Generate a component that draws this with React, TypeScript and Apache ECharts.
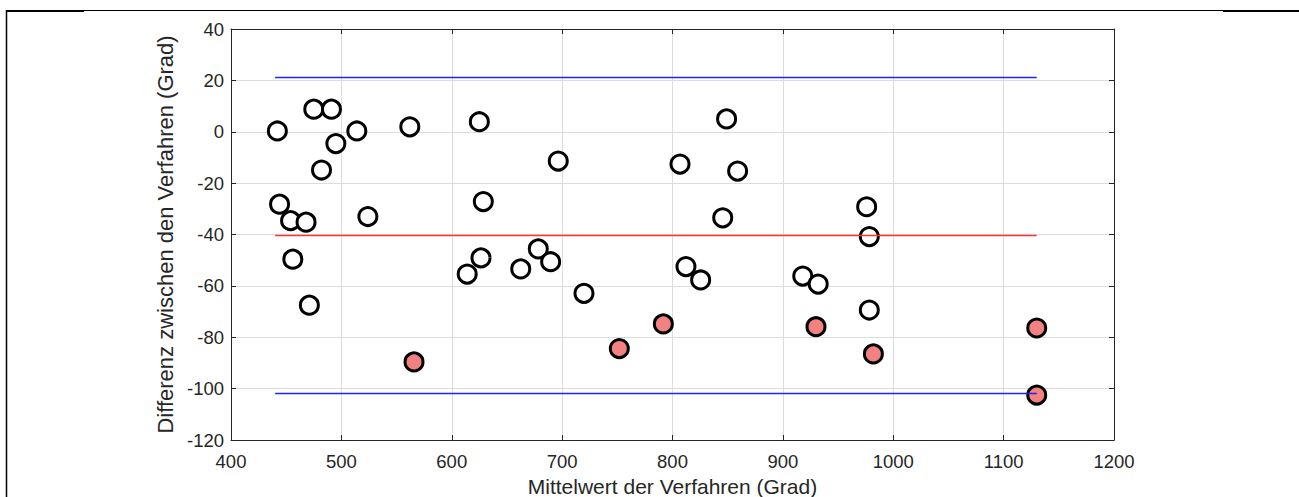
import React, { useEffect, useRef } from "react";
import * as echarts from "echarts";

const normalMean = [442, 444, 454, 468, 456, 471, 475, 491, 482, 495, 514, 524, 562, 614, 625, 626.5, 628.6, 662.5, 678.4, 689.6, 696.5, 719.8, 806.8, 812.2, 825.5, 845.5, 849, 859, 918, 932, 975.9, 978.3, 978.3];
const normalDiff = [0.3, -28.2, -34.6, -35.2, -49.6, -67.5, 8.8, 8.8, -14.9, -4.6, 0.3, -33, 1.9, -55.4, 3.9, -49.1, -27.2, -53.4, -45.6, -50.6, -11.4, -62.9, -12.6, -52.5, -57.7, -33.5, 5, -15.3, -56.2, -59.3, -29.2, -40.8, -69.4];
const outlierMean = [565.8, 751.8, 791.7, 930, 982, 1130, 1130];
const outlierDiff = [-89.6, -84.4, -74.8, -75.9, -86.5, -76.4, -102.5];
const limitStart = 440;
const limitEnd = 1130;
const upperLimit = 21.1;
const meanDiff = -40.4;
const lowerLimit = -101.9;
const xTicks = [400, 500, 600, 700, 800, 900, 1000, 1100, 1200];
const yTicks = [-120, -100, -80, -60, -40, -20, 0, 20, 40];

const axisColor = "#262626";
const font = "Liberation Sans, Arial, Helvetica, sans-serif";

export default function App() {
  const ref = useRef<HTMLDivElement>(null);
  useEffect(() => {
    if (!ref.current) return;
    const chart = echarts.init(ref.current, null, { renderer: "svg" });
    const pair = (xs: number[], ys: number[]) => xs.map((x, i) => [x, ys[i]]);
    const common = {
      axisLine: { show: true, onZero: false, lineStyle: { color: axisColor, width: 1 } },
      axisTick: { show: true, inside: true, length: 5, lineStyle: { color: axisColor } },
    };
    chart.setOption({
      animation: false,
      grid: {
        left: 231,
        right: 1299 - 1114,
        top: 29,
        bottom: 497 - 440,
        containLabel: false,
        outerBoundsMode: "none",
      },
      xAxis: [
        {
          type: "value",
          min: xTicks[0],
          max: xTicks[xTicks.length - 1],
          interval: 100,
          position: "bottom",
          ...common,
          splitLine: { show: true, lineStyle: { color: "#dcdcdc", width: 1 } },
          axisLabel: { color: axisColor, fontSize: 18.5, fontFamily: font, margin: 12, formatter: (v: number) => String(v) },
          name: "Mittelwert der Verfahren (Grad)",
          nameLocation: "middle",
          nameGap: 34,
          nameTextStyle: { color: axisColor, fontSize: 21, fontFamily: font },
        },
        {
          type: "value",
          min: xTicks[0],
          max: xTicks[xTicks.length - 1],
          interval: 100,
          position: "top",
          ...common,
          splitLine: { show: false },
          axisLabel: { show: false },
        },
      ],
      yAxis: [
        {
          type: "value",
          min: yTicks[0],
          max: yTicks[yTicks.length - 1],
          interval: 20,
          position: "left",
          ...common,
          splitLine: { show: true, lineStyle: { color: "#dcdcdc", width: 1 } },
          axisLabel: { color: axisColor, fontSize: 18.5, fontFamily: font, margin: 7, formatter: (v: number) => String(v) },
          name: "Differenz zwischen den Verfahren (Grad)",
          nameLocation: "middle",
          nameGap: 48,
          nameTextStyle: { color: axisColor, fontSize: 22, fontFamily: font },
        },
        {
          type: "value",
          min: yTicks[0],
          max: yTicks[yTicks.length - 1],
          interval: 20,
          position: "right",
          ...common,
          splitLine: { show: false },
          axisLabel: { show: false },
        },
      ],
      graphic: [
        { type: "line", shape: { x1: 6, y1: 10.5, x2: 1299, y2: 10.5 }, style: { stroke: "#000", lineWidth: 1.2 } },
        { type: "line", shape: { x1: 6, y1: 11, x2: 84, y2: 11 }, style: { stroke: "#000", lineWidth: 2 } },
        { type: "line", shape: { x1: 1223, y1: 11, x2: 1299, y2: 11 }, style: { stroke: "#000", lineWidth: 2 } },
        { type: "line", shape: { x1: 6.5, y1: 10, x2: 6.5, y2: 497 }, style: { stroke: "#000", lineWidth: 1.5 } },
      ],
      series: [
        {
          type: "scatter",
          data: pair(normalMean, normalDiff),
          symbol: "circle",
          symbolSize: 18,
          itemStyle: { color: "#ffffff", borderColor: "#000000", borderWidth: 3, opacity: 1 },
          z: 2,
        },
        {
          type: "scatter",
          data: pair(outlierMean, outlierDiff),
          symbol: "circle",
          symbolSize: 18,
          itemStyle: { color: "#f28282", borderColor: "#000000", borderWidth: 3, opacity: 1 },
          z: 2,
        },
        {
          type: "line",
          data: [[limitStart, upperLimit], [limitEnd, upperLimit]],
          symbol: "none",
          lineStyle: { color: "#2222ff", width: 1.5 },
          z: 3,
        },
        {
          type: "line",
          data: [[limitStart, meanDiff], [limitEnd, meanDiff]],
          symbol: "none",
          lineStyle: { color: "#ff3333", width: 1.5 },
          z: 3,
        },
        {
          type: "line",
          data: [[limitStart, lowerLimit], [limitEnd, lowerLimit]],
          symbol: "none",
          lineStyle: { color: "#2222ff", width: 1.5 },
          z: 3,
        },
      ],
    });
    return () => chart.dispose();
  }, []);
  return (
    <div
      ref={ref}
      style={{ position: "fixed", left: 0, top: 0, width: 1299, height: 497, background: "#ffffff" }}
    />
  );
}
